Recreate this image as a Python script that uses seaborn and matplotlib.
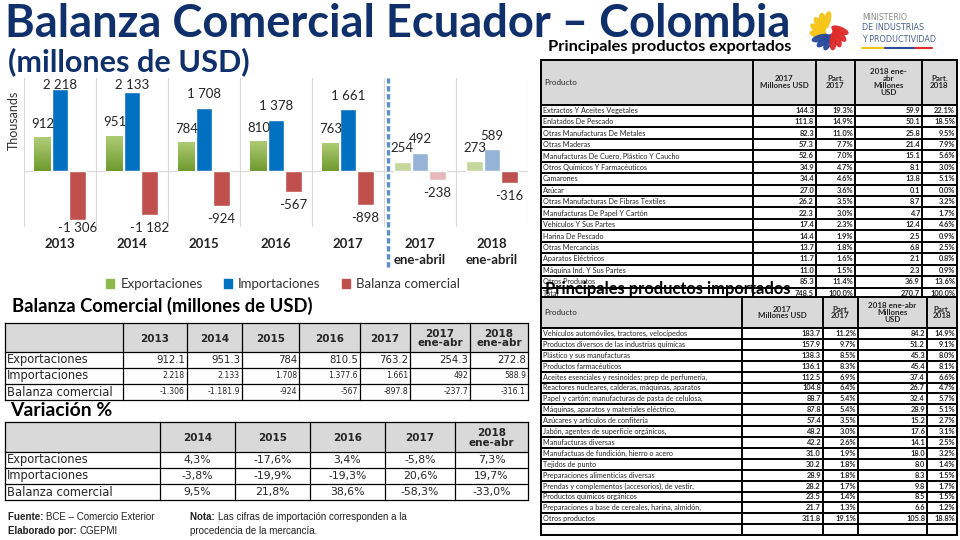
import numpy as np
import pandas as pd
import matplotlib
matplotlib.use("Agg")
import matplotlib.pyplot as plt
import seaborn as sns
from matplotlib.patches import Rectangle, Ellipse

# ---------------- data ----------------
categories = ['2013', '2014', '2015', '2016', '2017', '2017\nene-abril', '2018\nene-abril']
exportaciones = [912.1, 951.3, 784.0, 810.5, 763.2, 254.3, 272.8]
importaciones = [2218.0, 2133.0, 1708.0, 1377.6, 1661.0, 492.0, 588.9]
balanza = [-1306.0, -1181.9, -924.0, -567.0, -897.8, -237.7, -316.1]
series_names = ['Exportaciones', 'Importaciones', 'Balanza comercial']

tabla_cols = ['2013', '2014', '2015', '2016', '2017', '2017\nene-abr', '2018\nene-abr']
tabla_export = ['912.1', '951.3', '784', '810.5', '763.2', '254.3', '272.8']
tabla_import = ['2.218', '2.133', '1.708', '1.377.6', '1.661', '492', '588.9']
tabla_balanza = ['-1.306', '-1.181.9', '-924', '-567', '-897.8', '-237.7', '-316.1']

var_cols = ['2014', '2015', '2016', '2017', '2018\nene-abr']
var_export = ['4,3%', '-17,6%', '3,4%', '-5,8%', '7,3%']
var_import = ['-3,8%', '-19,9%', '-19,3%', '20,6%', '19,7%']
var_balanza = ['9,5%', '21,8%', '38,6%', '-58,3%', '-33,0%']

exp_productos = ['Extractos Y Aceites Vegetales', 'Enlatados De Pescado', 'Otras Manufacturas De Metales',
                 'Otras Maderas', 'Manufacturas De Cuero, Plástico Y Caucho', 'Otros Químicos Y Farmacéuticos',
                 'Camarones', 'Azúcar', 'Otras Manufacturas De Fibras Textiles', 'Manufacturas De Papel Y Cartón',
                 'Vehículos Y Sus Partes', 'Harina De Pescado', 'Otras Mercancías', 'Aparatos Eléctricos',
                 'Máquina Ind. Y Sus Partes', 'Otros Productos', 'Total']
exp_2017 = ['144.3', '111.8', '82.3', '57.3', '52.6', '34.9', '34.4', '27.0', '26.2', '22.3', '17.4', '14.4',
            '13.7', '11.7', '11.0', '85.3', '748.5']
exp_part17 = ['19.3%', '14.9%', '11.0%', '7.7%', '7.0%', '4.7%', '4.6%', '3.6%', '3.5%', '3.0%', '2.3%', '1.9%',
              '1.8%', '1.6%', '1.5%', '11.4%', '100.0%']
exp_2018 = ['59.9', '50.1', '25.8', '21.4', '15.1', '8.1', '13.8', '0.1', '8.7', '4.7', '12.4', '2.5', '6.8',
            '2.1', '2.3', '36.9', '270.7']
exp_part18 = ['22.1%', '18.5%', '9.5%', '7.9%', '5.6%', '3.0%', '5.1%', '0.0%', '3.2%', '1.7%', '4.6%', '0.9%',
              '2.5%', '0.8%', '0.9%', '13.6%', '100.0%']

imp_productos = ['Vehículos automóviles, tractores, velocípedos', 'Productos diversos de las industrias químicas',
                 'Plástico y sus manufacturas', 'Productos farmacéuticos',
                 'Aceites esenciales y resinoides; prep de perfumería,',
                 'Reactores nucleares, calderas, máquinas, aparatos',
                 'Papel y cartón; manufacturas de pasta de celulosa,', 'Máquinas, aparatos y materiales eléctrico,',
                 'Azúcares y artículos de confitería', 'Jabón, agentes de superficie orgánicos,',
                 'Manufacturas diversas', 'Manufactuas de fundición, hierro o acero', 'Tejidos de punto',
                 'Preparaciones alimenticias diversas', 'Prendas y complementos (accesorios), de vestir,',
                 'Productos químicos orgánicos', 'Preparaciones a base de cereales, harina, almidón,',
                 'Otros productos']
imp_2017 = ['183.7', '157.9', '138.3', '136.1', '112.5', '104.8', '88.7', '87.8', '57.4', '48.2', '42.2', '31.0',
            '30.2', '28.9', '28.2', '23.5', '21.7', '311.8']
imp_part17 = ['11.2%', '9.7%', '8.5%', '8.3%', '6.9%', '6.4%', '5.4%', '5.4%', '3.5%', '3.0%', '2.6%', '1.9%',
              '1.8%', '1.8%', '1.7%', '1.4%', '1.3%', '19.1%']
imp_2018 = ['84.2', '51.2', '45.3', '45.4', '37.4', '26.7', '32.4', '28.9', '15.2', '17.6', '14.1', '18.0',
            '8.0', '8.3', '9.8', '8.5', '6.6', '105.8']
imp_part18 = ['14.9%', '9.1%', '8.0%', '8.1%', '6.6%', '4.7%', '5.7%', '5.1%', '2.7%', '3.1%', '2.5%', '3.2%',
              '1.4%', '1.5%', '1.7%', '1.5%', '1.2%', '18.8%']

# ---------------- style ----------------
sns.set_theme(style="white")
plt.rcParams['font.family'] = ['Lato', 'DejaVu Sans']
NAVY = '#10306B'
C_EXP, C_IMP, C_BAL = '#8DB84A', '#0070C0', '#C0504D'
C_EXP_L, C_IMP_L, C_BAL_L = '#C4D79B', '#95B3D7', '#E6B9B8'

W, H = 960, 540
fig = plt.figure(figsize=(9.6, 5.4), dpi=100)
fig.patch.set_facecolor('white')
renderer = fig.canvas.get_renderer()

# overlay axes in pixel coordinates for text & tables
bg = fig.add_axes([0, 0, 1, 1])
bg.set_xlim(0, W)
bg.set_ylim(H, 0)
bg.axis('off')
bg.patch.set_alpha(0)


def fit(t, width):
    bb = t.get_window_extent(renderer=renderer)
    t.set_fontsize(t.get_fontsize() * width / bb.width)
    return t


def rich(x, y, parts, size, family):
    for txt, wt in parts:
        t = bg.text(x, y, txt, fontsize=size, fontweight=wt, family=family, color='#222222',
                    ha='left', va='center')
        x += t.get_window_extent(renderer=renderer).width


# ---------------- titles ----------------
fit(bg.text(5, 24, 'Balanza Comercial Ecuador – Colombia', fontsize=30, fontweight='bold',
            color=NAVY, ha='left', va='center'), 785)
fit(bg.text(8, 62, '(millones de USD)', fontsize=18, fontweight='bold', color=NAVY,
            ha='left', va='center'), 242)
fit(bg.text(548, 47, 'Principales productos exportados', fontsize=12, fontweight='bold', color='black',
            ha='left', va='center', zorder=5), 242)

# logo
cx, cy = 829, 31
for k in range(12):
    ang = 100 + k * 24
    if ang < 200:
        col = '#F5C518'
    elif ang < 290:
        col = '#2A4B9B'
    else:
        col = '#E02B2B'
    r = np.deg2rad(ang)
    bg.add_patch(Ellipse((cx + 11 * np.cos(r), cy - 11 * np.sin(r)), 17, 6, angle=-ang + 25,
                         color=col, alpha=0.95, zorder=3))
bg.text(862, 17, 'MINISTERIO', fontsize=5.6, color='#8A8A8A', ha='left', va='center', family='DejaVu Sans')
bg.text(862, 28, 'DE INDUSTRIAS', fontsize=5.8, color='#4A6390', ha='left', va='center', family='DejaVu Sans')
bg.text(862, 39, 'Y PRODUCTIVIDAD', fontsize=5.8, color='#4A6390', ha='left', va='center', family='DejaVu Sans')
bg.plot([862, 885], [48, 48], color='#F5C518', lw=1.5)
bg.plot([885, 915], [48, 48], color='#2A4B9B', lw=1.5)
bg.plot([915, 932], [48, 48], color='#E02B2B', lw=1.5)

# ---------------- bar chart (seaborn) ----------------
df = pd.DataFrame({
    'categoria': categories * 3,
    'serie': [s for s in series_names for _ in categories],
    'valor': exportaciones + importaciones + balanza,
})
ax = fig.add_axes([24 / W, 1 - 227 / H, 504 / W, 149 / H])
ax.patch.set_alpha(0)
sns.barplot(data=df, x='categoria', y='valor', hue='serie', palette=[C_EXP, C_IMP, C_BAL],
            width=0.73, gap=0.06, saturation=1, legend=False, ax=ax, zorder=3)
ax.set_xlim(-0.5, len(categories) - 0.5)
ax.set_ylim(-1500, 2500)
for s in ax.spines.values():
    s.set_visible(False)
ax.set_yticks([])
ax.set_xlabel('')
ax.set_ylabel('')
ax.tick_params(axis='x', length=0, pad=8, labelsize=9.5, labelcolor='#222222')
for lab in ax.get_xticklabels():
    lab.set_fontweight('bold')
    lab.set_linespacing(1.35)
for k in range(len(categories) + 1):
    ax.axvline(k - 0.5, color='#D9D9D9', lw=0.8, zorder=1)
ax.axhline(0, color='#D9D9D9', lw=0.9, zorder=2)
ax.axvline(len(categories) - 2.45, ymin=-0.27, ymax=1.0, color='#5B8FC7', lw=2.4,
           ls=(0, (1.6, 0.8)), zorder=4, clip_on=False)

light = {0: C_EXP_L, 1: C_IMP_L, 2: C_BAL_L}
grad = np.linspace(0, 1, 64).reshape(-1, 1)
from matplotlib.colors import LinearSegmentedColormap
gcm = LinearSegmentedColormap.from_list('g', ['#6F9A2F', '#B0CD76'])
values_by_series = [exportaciones, importaciones, balanza]
for si, cont in enumerate(ax.containers):
    for i, bar in enumerate(cont):
        v = values_by_series[si][i]
        if categories[i].endswith('ene-abril') and not (si == 2 and i == len(categories) - 1):
            bar.set_facecolor(light[si])
        elif si == 0:
            x0, w = bar.get_x(), bar.get_width()
            im = ax.imshow(grad, cmap=gcm, aspect='auto', origin='lower',
                           extent=(x0, x0 + w, 0, bar.get_height()), zorder=3)
            im.set_clip_path(bar)
        xc = bar.get_x() + bar.get_width() / 2
        if v >= 0:
            y = min(v + 360, 2300)
        else:
            y = max(v - 350, -1540)
        s = f"{abs(round(v)):,}".replace(',', ' ')
        s = ('-' if v < 0 else '') + s
        ax.text(xc, y, s, ha='center', va='center', fontsize=9.5, color='#262626', zorder=6, clip_on=False)
ax.set_xlim(-0.5, len(categories) - 0.5)
ax.set_ylim(-1500, 2500)

fig.text(14 / W, 1 - 120 / H, 'Thousands', rotation=90, ha='center', va='center', fontsize=9,
         color='#333333')
handles = [Rectangle((0, 0), 1, 1, color=c) for c in [C_EXP, C_IMP, C_BAL]]
ax.legend(handles, series_names, loc='center', bbox_to_anchor=(283 / W, 1 - 284 / H),
          bbox_transform=fig.transFigure, ncol=3, frameon=False, fontsize=9.5,
          handlelength=0.6, handleheight=0.6, handletextpad=0.5, columnspacing=1.6,
          labelcolor='#333333')


# ---------------- tables ----------------
def grid(xe, ye, lw, nhead=1, fill='#D9D9D9', z=2):
    bg.add_patch(Rectangle((xe[0], ye[0]), xe[-1] - xe[0], ye[-1] - ye[0], facecolor='white',
                           edgecolor='none', zorder=z))
    bg.add_patch(Rectangle((xe[0], ye[0]), xe[-1] - xe[0], ye[nhead] - ye[0], facecolor=fill,
                           edgecolor='none', zorder=z))
    for x in xe:
        bg.plot([x, x], [ye[0], ye[-1]], color='black', lw=lw, zorder=z + 0.5, solid_capstyle='projecting')
    for y in ye:
        bg.plot([xe[0], xe[-1]], [y, y], color='black', lw=lw, zorder=z + 0.5, solid_capstyle='projecting')


TF = 'DejaVu Sans'
fit(bg.text(12, 306, 'Balanza Comercial (millones de USD)', fontsize=11, fontweight='bold',
            color='black', ha='left', va='center'), 299)
xe1 = [5, 123, 187, 242, 299, 360, 410, 470, 528]
ye1 = [323, 352, 368, 384, 400]
grid(xe1, ye1, 0.9)
for j, c in enumerate(tabla_cols):
    bg.text((xe1[j + 1] + xe1[j + 2]) / 2, (ye1[0] + ye1[1]) / 2 + 1, c, ha='center', va='center',
            fontsize=7.5, fontweight='bold', family=TF, linespacing=0.95, zorder=4)
rows1 = [('Exportaciones', tabla_export, 7.3), ('Importaciones', tabla_import, 5.6),
         ('Balanza comercial', tabla_balanza, 5.6)]
for i, (name, vals, fs) in enumerate(rows1):
    yc = (ye1[i + 1] + ye1[i + 2]) / 2
    bg.text(xe1[0] + 2, yc, name, ha='left', va='center', fontsize=8.3, family=TF, zorder=4)
    for j, v in enumerate(vals):
        bg.text(xe1[j + 2] - 2, yc, v, ha='right', va='center', fontsize=fs, family=TF, zorder=4)

fit(bg.text(10, 411, 'Variación %', fontsize=11, fontweight='bold', color='black',
            ha='left', va='center'), 102)
xe2 = [5, 160, 235, 310, 385, 455, 528]
ye2 = [422, 452, 468, 484, 500]
grid(xe2, ye2, 0.9)
for j, c in enumerate(var_cols):
    bg.text((xe2[j + 1] + xe2[j + 2]) / 2, (ye2[0] + ye2[1]) / 2 + 1, c, ha='center', va='center',
            fontsize=7.5, fontweight='bold', family=TF, linespacing=0.95, zorder=4)
rows2 = [('Exportaciones', var_export), ('Importaciones', var_import), ('Balanza comercial', var_balanza)]
for i, (name, vals) in enumerate(rows2):
    yc = (ye2[i + 1] + ye2[i + 2]) / 2
    bg.text(xe2[0] + 2, yc, name, ha='left', va='center', fontsize=8.3, family=TF, zorder=4)
    for j, v in enumerate(vals):
        bg.text((xe2[j + 1] + xe2[j + 2]) / 2, yc, v, ha='center', va='center', fontsize=7.8,
                family=TF, zorder=4)

FF = 'Liberation Sans'
rich(8, 517, [('Fuente: ', 'bold'), ('BCE – Comercio Exterior', 'normal')], 7, FF)
rich(8, 531, [('Elaborado por: ', 'bold'), ('CGEPMI', 'normal')], 7, FF)
rich(190, 517, [('Nota: ', 'bold'), ('Las cifras de importación corresponden a la', 'normal')], 7, FF)
rich(190, 531, [('procedencia de la mercancía.', 'normal')], 7, FF)


def product_table(xe, y0, head_h, pitch, names, cols, headers, z, extra_rows=0):
    n = len(names) + extra_rows
    ye = [y0, y0 + head_h] + [y0 + head_h + pitch * (k + 1) for k in range(n)]
    grid(xe, ye, 1.4, z=z)
    bg.text(xe[0] + 3, (ye[0] + ye[1]) / 2, 'Producto', ha='left', va='center', fontsize=5.8, zorder=z + 1)
    for j, htxt in enumerate(headers):
        bg.text((xe[j + 1] + xe[j + 2]) / 2, (ye[0] + ye[1]) / 2, htxt, ha='center', va='center',
                fontsize=5.8, fontweight='bold', linespacing=1.0, zorder=z + 1)
    for i, name in enumerate(names):
        yc = (ye[i + 1] + ye[i + 2]) / 2
        bg.text(xe[0] + 2, yc, name, ha='left', va='center', fontsize=5.2, zorder=z + 1)
        for j, col in enumerate(cols):
            bg.text(xe[j + 2] - 2, yc, col[i], ha='right', va='center', fontsize=5.4,
                    fontweight='bold', zorder=z + 1)


product_table([541, 753, 816, 855, 922, 957], 60, 44.5, 11.44, exp_productos,
              [exp_2017, exp_part17, exp_2018, exp_part18],
              ['2017\nMillones USD', 'Part.\n2017', '2018 ene-\nabr\nMillones\nUSD', 'Part.\n2018'], z=2)
fit(bg.text(545, 289, 'Principales productos importados', fontsize=12, fontweight='bold', color='black',
            ha='left', va='center', zorder=8), 245)
product_table([541, 742, 823, 858, 927, 957], 297, 31, 10.9, imp_productos,
              [imp_2017, imp_part17, imp_2018, imp_part18],
              ['2017\nMillones USD', 'Part.\n2017', '2018 ene-abr\nMillones\nUSD', 'Part.\n2018'], z=6,
              extra_rows=1)

fig.savefig('out.png', dpi=100, facecolor='white')
